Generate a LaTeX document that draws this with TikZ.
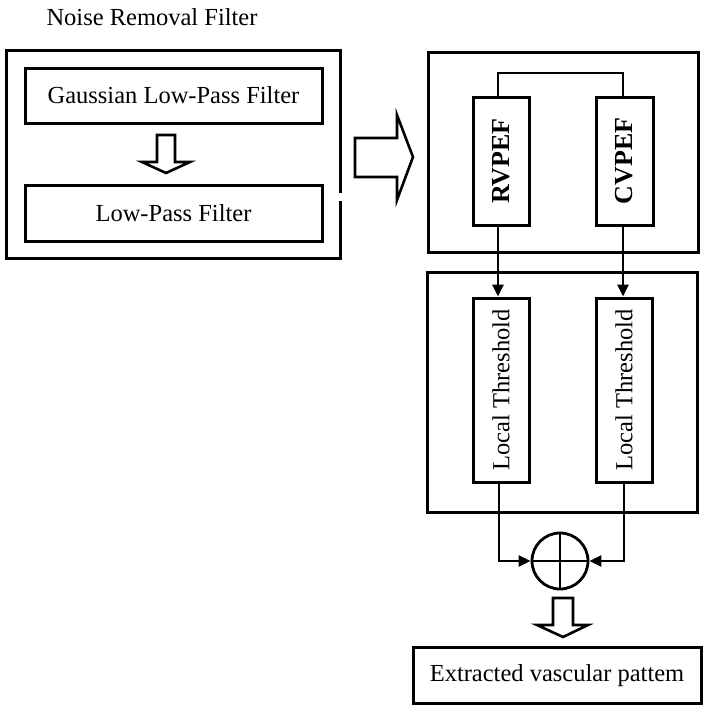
\documentclass[tikz,border=0pt]{standalone}
\usepackage{fontspec}
\setmainfont{Liberation Serif}
\usetikzlibrary{arrows.meta}
\begin{document}
\begin{tikzpicture}[x=1pt,y=-1pt,
  frame/.style={draw, line width=3pt},
  box/.style={draw, line width=3pt, inner sep=0pt},
  hollow/.style={draw, line width=2.6pt, line join=miter, fill=white},
  conn/.style={draw, line width=2.8pt},
  arr/.style={draw, line width=2.8pt, -{Triangle[length=12pt,width=11pt]}},
  lbl/.style={font=\fontsize{24.5}{27}\selectfont},
  vlbl/.style={font=\fontsize{24.5}{27}\selectfont},
  vbold/.style={font=\fontsize{26}{28}\selectfont\bfseries}]
\useasboundingbox (0,0) rectangle (703,705);
% title
\node[lbl] (title) at (152,17) {Noise Removal Filter};
% left frame with gap on right side
\draw[frame] (340,193) -- (340,50) -- (6,50) -- (6,258) -- (340,258) -- (340,201);
\node[box, minimum width=297pt, minimum height=55pt, lbl] (glp) at (173.5,95.5) {Gaussian Low-Pass Filter};
\node[box, minimum width=297pt, minimum height=56pt, lbl] (lp) at (173.5,213) {Low-Pass Filter};
% small hollow arrow down
\draw[hollow] (157,135) -- (175,135) -- (175,162) -- (190,162) -- (166,173) -- (142,162) -- (157,162) -- cycle;
% big hollow arrow right
\draw[hollow] (355,138) -- (397,138) -- (397,115) -- (413,157) -- (397,200) -- (397,177) -- (355,177) -- cycle;
% right top frame
\node[box, minimum width=270pt, minimum height=200pt] (f1) at (563,152) {};
\node[box, minimum width=56pt, minimum height=128pt, vbold] (rv) at (501,161) {\rotatebox{90}{RVPEF}};
\node[box, minimum width=57pt, minimum height=128pt, vbold] (cv) at (624.5,161) {\rotatebox{90}{CVPEF}};
\coordinate (tl) at (498,73);
\coordinate (tr) at (623,73);
\draw[conn] (rv.north -| tl) -- (tl) -- (tr) -- (cv.north -| tr);
% second frame
\node[box, minimum width=270pt, minimum height=240pt] (f2) at (562,392) {};
\node[box, minimum width=56pt, minimum height=184pt, vlbl] (lt1) at (501,390) {\rotatebox{90}{Local Threshold}};
\node[box, minimum width=56pt, minimum height=184pt, vlbl] (lt2) at (624,390) {\rotatebox{90}{Local Threshold}};
\draw[arr] (rv.south -| tl) -- (lt1.north -| tl);
\draw[arr] (cv.south -| tr) -- (lt2.north -| tr);
% summing junction
\node[draw, circle, line width=2.8pt, minimum size=56pt, inner sep=0pt] (sum) at (560,561) {};
\draw[line width=2.6pt] (sum.north) -- (sum.south) (sum.west) -- (sum.east);
\coordinate (bl) at (499,561);
\coordinate (br) at (624,561);
\draw[arr] (lt1.south -| bl) -- (bl) -- (sum.west);
\draw[arr] (lt2.south -| br) -- (br) -- (sum.east);
% hollow arrow down
\draw[hollow] (553,598) -- (573,598) -- (573,625) -- (588,625) -- (563,637) -- (537,625) -- (553,625) -- cycle;
% output box
\node[box, minimum width=288pt, minimum height=56pt, lbl] (out) at (557,675.5) {Extracted vascular pattem};
\end{tikzpicture}
\end{document}
